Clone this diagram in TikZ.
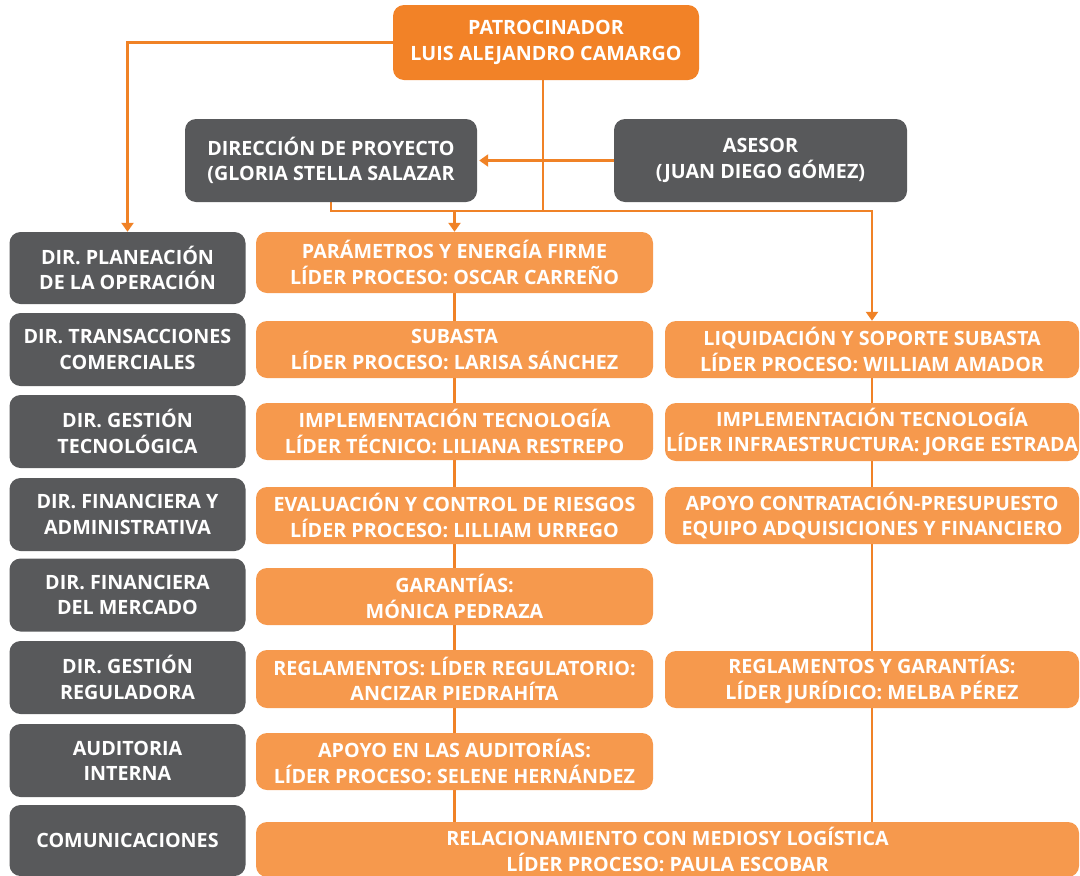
\documentclass[tikz,border=0pt]{standalone}
\usepackage{fontspec}
\setmainfont{Open Sans}[BoldFont={* Bold}]
\usetikzlibrary{arrows.meta}
\definecolor{gr}{HTML}{58595B}
\definecolor{orD}{HTML}{F28227}
\definecolor{orL}{HTML}{F6994D}
\definecolor{ln}{HTML}{F08226}
\pgfdeclarelayer{bg}
\pgfsetlayers{bg,main}
\tikzset{
  box/.style={rounded corners=11pt, inner sep=0pt, align=center, text=white,
    font=\bfseries\fontsize{19.7}{25.3}\selectfont},
  gbox/.style={box, fill=gr, minimum width=236pt, minimum height=73pt},
  obox/.style={box, fill=orL, minimum width=397pt},
  rbox/.style={box, fill=orL, minimum width=414pt},
  conn/.style={draw=ln, line width=2.3pt},
  arr/.style={conn, -{Triangle[width=12pt,length=9pt]}},
}
\begin{document}
\begin{tikzpicture}[x=1pt,y=-1pt]
\useasboundingbox (0,0) rectangle (1080,876);
% top
\node[box, fill=orD, minimum width=306pt, minimum height=75pt] (pat) at (546,42.5) {PATROCINADOR\\LUIS ALEJANDRO CAMARGO};
\node[box, fill=gr, minimum width=292pt, minimum height=83pt] (dir) at (331,160.5) {DIRECCIÓN DE PROYECTO\\(GLORIA STELLA SALAZAR};
\node[box, fill=gr, minimum width=293pt, minimum height=83pt] (ase) at (760.5,160.5) {ASESOR\\(JUAN DIEGO GÓMEZ)};
% left column
\node[gbox, minimum height=72pt] (g1) at (127.5,268) {DIR. PLANEACIÓN\\DE LA OPERACIÓN};
\node[gbox] (g2) at (127.5,349.5) {DIR. TRANSACCIONES\\COMERCIALES};
\node[gbox] (g3) at (127.5,431.5) {DIR. GESTIÓN\\TECNOLÓGICA};
\node[gbox] (g4) at (127.5,514.5) {DIR. FINANCIERA Y\\ADMINISTRATIVA};
\node[gbox] (g5) at (127.5,595) {DIR. FINANCIERA\\DEL MERCADO};
\node[gbox] (g6) at (127.5,677.5) {DIR. GESTIÓN\\REGULADORA};
\node[gbox] (g7) at (127.5,760.5) {AUDITORIA\\INTERNA};
\node[gbox, minimum height=71pt] (g8) at (127.5,840.5) {COMUNICACIONES};
% middle column
\node[obox, minimum height=61pt] (o1) at (454.5,262.5) {PARÁMETROS Y ENERGÍA FIRME\\LÍDER PROCESO: OSCAR CARREÑO};
\node[obox, minimum height=57pt] (o2) at (454.5,349.5) {SUBASTA\\LÍDER PROCESO: LARISA SÁNCHEZ};
\node[obox, minimum height=57pt] (o3) at (454.5,431.5) {IMPLEMENTACIÓN TECNOLOGÍA\\LÍDER TÉCNICO: LILIANA RESTREPO};
\node[obox, minimum height=57pt] (o4) at (454.5,515.5) {EVALUACIÓN Y CONTROL DE RIESGOS\\LÍDER PROCESO: LILLIAM URREGO};
\node[obox, minimum height=57pt] (o5) at (454.5,596.5) {GARANTÍAS:\\MÓNICA PEDRAZA};
\node[obox, minimum height=58pt] (o6) at (454.5,679) {REGLAMENTOS: LÍDER REGULATORIO:\\ANCIZAR PIEDRAHÍTA};
\node[obox, minimum height=57pt] (o7) at (454.5,761.5) {APOYO EN LAS AUDITORÍAS:\\LÍDER PROCESO: SELENE HERNÁNDEZ};
\node[box, fill=orL, minimum width=823pt, minimum height=55pt] (o8) at (667.5,849.5) {RELACIONAMIENTO CON MEDIOSY LOGÍSTICA\\LÍDER PROCESO: PAULA ESCOBAR};
% right column
\node[rbox, minimum height=57pt] (r1) at (872,349.5) {LIQUIDACIÓN Y SOPORTE SUBASTA\\LÍDER PROCESO: WILLIAM AMADOR};
\node[rbox, minimum height=58pt] (r2) at (872,432) {IMPLEMENTACIÓN TECNOLOGÍA\\LÍDER INFRAESTRUCTURA: JORGE ESTRADA};
\node[rbox, minimum height=57pt] (r3) at (872,515.5) {APOYO CONTRATACIÓN-PRESUPUESTO\\EQUIPO ADQUISICIONES Y FINANCIERO};
\node[rbox, minimum height=57pt] (r4) at (872,679.5) {REGLAMENTOS Y GARANTÍAS:\\LÍDER JURÍDICO: MELBA PÉREZ};
\coordinate (j) at (543,211);
\begin{pgfonlayer}{bg}
\draw[arr] (pat.west) -| (g1.north);
\draw[arr, shorten >=2pt] (ase.west) -- (dir.east);
\draw[conn] (pat.south -| j) -- (j);
\draw[conn] (dir.south) |- (j);
\draw[arr] (j) -| (r1.north);
\draw[arr] (o1.north |- j) -- (o1.north);
\draw[conn] (o1.south) -- (o8.north -| o1.south);
\draw[conn] (r1.south) -- (o8.north -| r1.south);
\end{pgfonlayer}
\end{tikzpicture}
\end{document}
